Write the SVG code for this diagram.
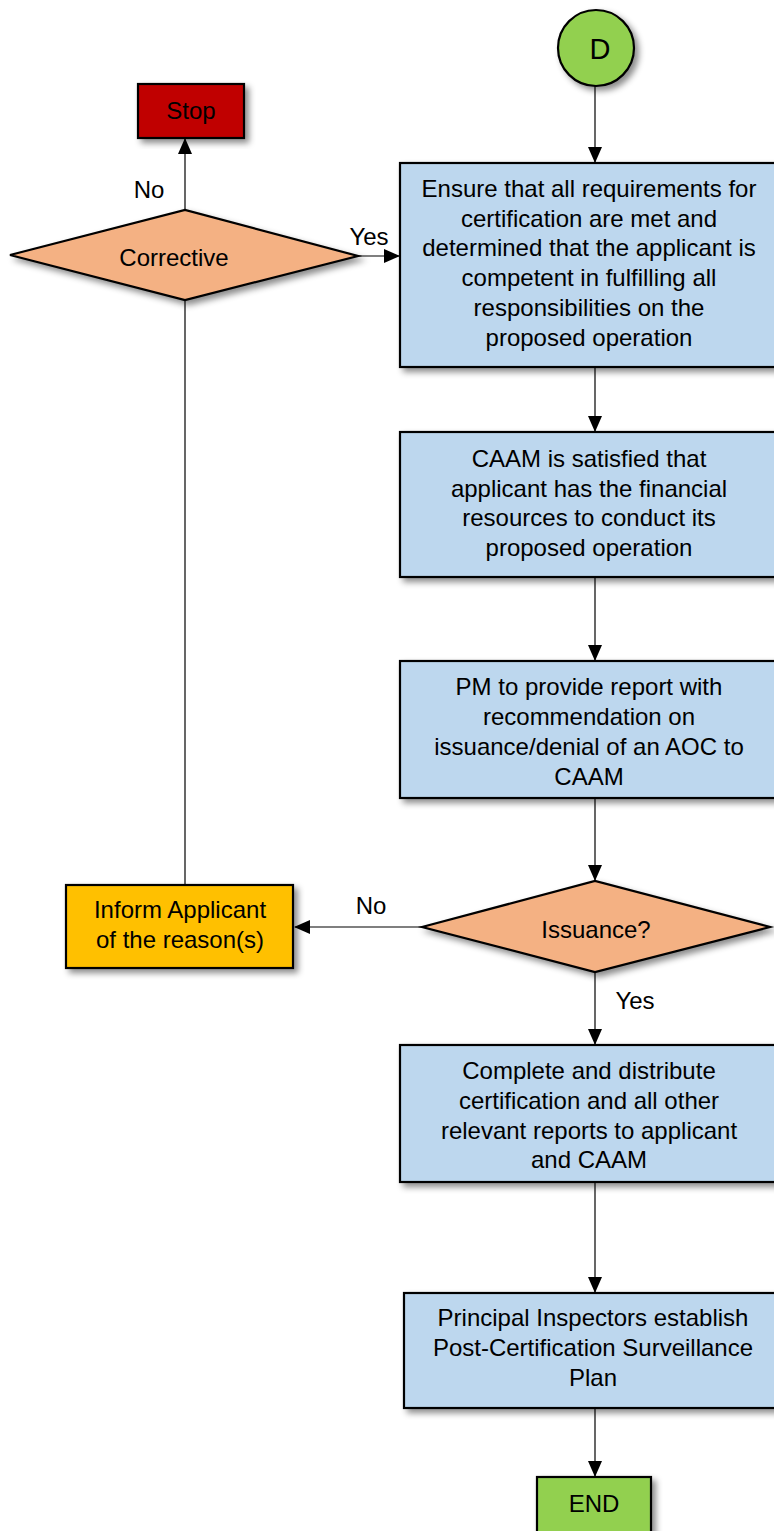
<svg xmlns="http://www.w3.org/2000/svg" width="774" height="1531" viewBox="0 0 774 1531">
<style>
.n{stroke:#000;stroke-width:2.2;filter:url(#sh)}
.blue{fill:#BDD7EE}
.dia{fill:#F4B183}
.grn{fill:#92D050}
text{font-family:"Liberation Sans",Arial,sans-serif;font-size:24px;fill:#000;text-anchor:middle}
.c{stroke:#000;stroke-width:1.2;fill:none}
</style>
<defs>
<filter id="sh" x="-10%" y="-10%" width="130%" height="130%">
<feDropShadow dx="4" dy="4" stdDeviation="3" flood-color="#000" flood-opacity="0.45"/>
</filter>
<marker id="a" markerWidth="16" markerHeight="14" refX="15" refY="7" orient="auto" markerUnits="userSpaceOnUse">
<path d="M0,0 L16,7 L0,14 Z" fill="#000"/>
</marker>
</defs>
<g id="connectors">
<line class="c" x1="595" y1="86" x2="595" y2="162" marker-end="url(#a)"/>
<line class="c" x1="595" y1="367" x2="595" y2="431" marker-end="url(#a)"/>
<line class="c" x1="595" y1="577" x2="595" y2="660" marker-end="url(#a)"/>
<line class="c" x1="595" y1="798" x2="595" y2="880" marker-end="url(#a)"/>
<line class="c" x1="595" y1="972" x2="595" y2="1044" marker-end="url(#a)"/>
<line class="c" x1="595" y1="1182" x2="595" y2="1292" marker-end="url(#a)"/>
<line class="c" x1="595" y1="1408" x2="595" y2="1476" marker-end="url(#a)"/>
<line class="c" x1="422" y1="927" x2="295" y2="927" marker-end="url(#a)"/>
<line class="c" x1="185" y1="884" x2="185" y2="300"/>
<line class="c" x1="185" y1="210" x2="185" y2="139" marker-end="url(#a)"/>
<line class="c" x1="358" y1="256" x2="399" y2="256" marker-end="url(#a)"/>
<text x="371" y="914">No</text>
<text x="635" y="1009">Yes</text>
<text x="149" y="198">No</text>
<text x="369" y="245">Yes</text>
</g>
<g id="D">
<circle class="n grn" cx="596" cy="48" r="38"/>
<text x="600" y="59" style="font-size:29px">D</text>
</g>
<g id="stop">
<rect class="n" fill="#C00000" x="138" y="84" width="106" height="54"/>
<text x="191" y="119">Stop</text>
</g>
<g id="corrective">
<polygon class="n dia" points="10,255 185,210 358,256 185,300"/>
<text x="174" y="266">Corrective</text>
</g>
<g id="ensure">
<rect class="n blue" x="400" y="163" width="380" height="204"/>
<text x="589" y="197">Ensure that all requirements for</text>
<text x="589" y="227">certification are met and</text>
<text x="589" y="256">determined that the applicant is</text>
<text x="589" y="286">competent in fulfilling all</text>
<text x="589" y="316">responsibilities on the</text>
<text x="589" y="346">proposed operation</text>
</g>
<g id="caam">
<rect class="n blue" x="400" y="432" width="380" height="145"/>
<text x="589" y="467">CAAM is satisfied that</text>
<text x="589" y="497">applicant has the financial</text>
<text x="589" y="526">resources to conduct its</text>
<text x="589" y="556">proposed operation</text>
</g>
<g id="pm">
<rect class="n blue" x="400" y="661" width="380" height="137"/>
<text x="589" y="695">PM to provide report with</text>
<text x="589" y="725">recommendation on</text>
<text x="589" y="755">issuance/denial of an AOC to</text>
<text x="589" y="785">CAAM</text>
</g>
<g id="issuance">
<polygon class="n dia" points="422,927 595,881 770,927 595,972"/>
<text x="596" y="938">Issuance?</text>
</g>
<g id="inform">
<rect class="n" fill="#FFC000" x="66" y="885" width="227" height="83"/>
<text x="180" y="918">Inform Applicant</text>
<text x="180" y="948">of the reason(s)</text>
</g>
<g id="complete">
<rect class="n blue" x="400" y="1045" width="380" height="137"/>
<text x="589" y="1079">Complete and distribute</text>
<text x="589" y="1109">certification and all other</text>
<text x="589" y="1139">relevant reports to applicant</text>
<text x="589" y="1168">and CAAM</text>
</g>
<g id="principal">
<rect class="n blue" x="404" y="1293" width="380" height="115"/>
<text x="593" y="1326">Principal Inspectors establish</text>
<text x="593" y="1356">Post-Certification Surveillance</text>
<text x="593" y="1386">Plan</text>
</g>
<g id="end">
<rect class="n grn" x="537" y="1477" width="114" height="60"/>
<text x="594" y="1512">END</text>
</g>
</svg>
